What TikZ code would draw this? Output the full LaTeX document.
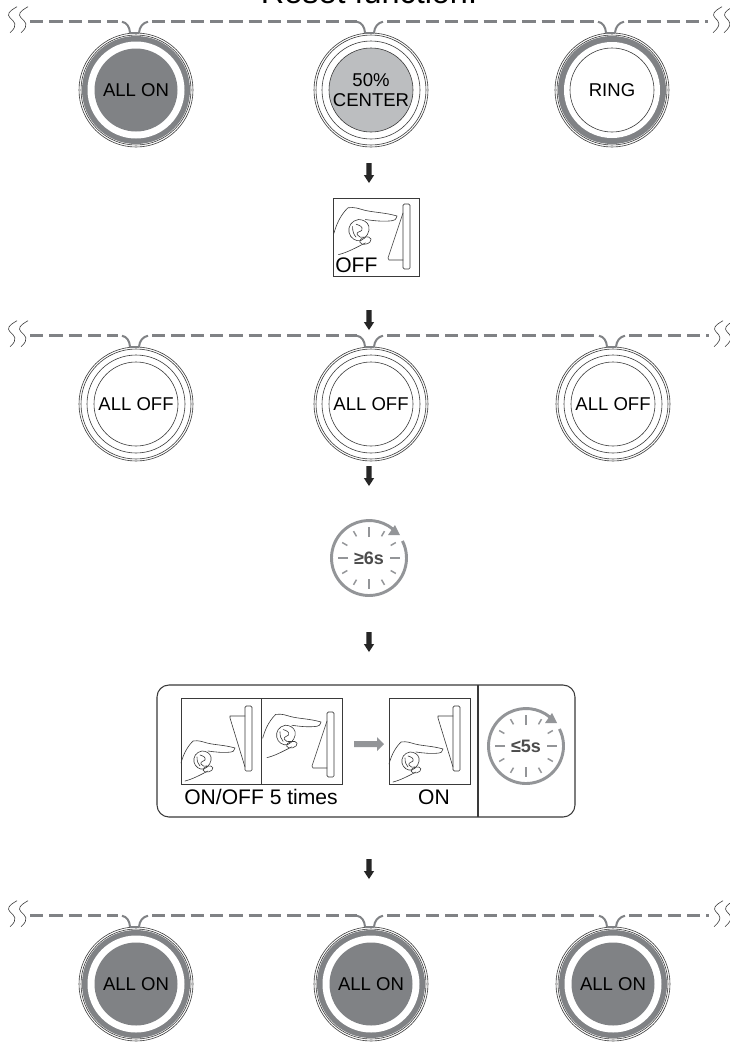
\documentclass[tikz,border=0pt]{standalone}
\usepackage{fontspec}
\setmainfont{Liberation Sans}
\usetikzlibrary{calc}
\definecolor{dk}{HTML}{808285}
\definecolor{lg}{HTML}{BCBEC0}
\definecolor{tm}{HTML}{939598}
\definecolor{ln}{HTML}{3A3A3A}
\tikzset{
 x=0.75pt,y=-0.75pt,
 thin line/.style={draw=ln,line width=0.45pt},
 btnnode/.style={circle,minimum size=85.5pt,inner sep=0pt,align=center,font=\fontsize{13.9pt}{15.5pt}\selectfont,text=black},
 bus/.style={draw=dk,line width=1.9pt,dash pattern=on 10pt off 4.5pt},
 hook/.style={draw=dk,line width=1.5pt},
 squig/.style={draw=ln,line width=0.45pt},
 downarrow/.style={fill=black!85},
 hand/.style={draw=ln,line width=0.45pt,line cap=round,line join=round},
 iconbox/.style={draw=ln,line width=0.6pt},
 lab/.style={font=\fontsize{15.8pt}{17pt}\selectfont,text=black,inner sep=0pt},
 tick/.style={draw=tm,line width=1.1pt},
 timertext/.style={font=\fontsize{13.5pt}{15pt}\selectfont\bfseries,text=black!70,inner sep=0pt},
}
\newcommand{\outerrings}[2]{\draw[thin line] (#1,#2) circle (57) (#1,#2) circle (55);}
\newcommand{\btnon}[4]{\outerrings{#2}{#3}
 \fill[dk] (#2,#3) circle (54);\fill[white] (#2,#3) circle (48.5);\fill[dk] (#2,#3) circle (41.5);
 \node[btnnode] (#1) at (#2,#3) {#4};}
\newcommand{\btnoff}[4]{\outerrings{#2}{#3}
 \draw[thin line] (#2,#3) circle (49) (#2,#3) circle (42);
 \node[btnnode] (#1) at (#2,#3) {#4};}
\newcommand{\btnhalf}[4]{\outerrings{#2}{#3}
 \draw[thin line] (#2,#3) circle (49);\draw[thin line,fill=lg] (#2,#3) circle (42);
 \node[btnnode] (#1) at (#2,#3) {#4};}
\newcommand{\btnring}[4]{\outerrings{#2}{#3}
 \fill[dk] (#2,#3) circle (54);\fill[white] (#2,#3) circle (48);\draw[thin line] (#2,#3) circle (42);
 \node[btnnode] (#1) at (#2,#3) {#4};}
\newcommand{\hooks}[1]{%
 \draw[hook] ($(#1.north)+(-14,-11)$) .. controls ($(#1.north)+(-9,-10)$) and ($(#1.north)+(-6.5,-6)$) .. ($(#1.north)+(-6,0)$);
 \draw[hook] ($(#1.north)+(12,-11)$) .. controls ($(#1.north)+(7,-10)$) and ($(#1.north)+(3.5,-6)$) .. ($(#1.north)+(3,0)$);
 \draw[hook] ($(#1.north)+(-6,0)$) -- ($(#1.north)+(3,0)$);
}
\newcommand{\busrow}[3]{%
 \coordinate (sl) at ($(#1.north)+(-106,-11)$);
 \coordinate (sr) at ($(#3.north)+(96,-11)$);
 \draw[bus] (sl) -- ($(#1.north)+(-18,-11)$);
 \draw[bus] ($(#1.north)+(16,-11)$) -- ($(#2.north)+(-14,-11)$);
 \draw[bus] ($(#2.north)+(16,-11)$) -- ($(#3.north)+(-14,-11)$);
 \draw[bus] ($(#3.north)+(16,-11)$) -- (sr);
 \hooks{#1}\hooks{#2}\hooks{#3}
 \begin{scope}[shift={(sl)}]
  \draw[squig] (-13,-15) .. controls (-22,-10) and (-23,-7) .. (-20,-4) .. controls (-16,0) and (-11,3) .. (-20,11);
  \draw[squig] (-2,-15) .. controls (-11,-10) and (-12,-7) .. (-9,-4) .. controls (-5,0) and (0,3) .. (-9,11);
 \end{scope}
 \begin{scope}[shift={(sr)}]
  \draw[squig] (14,-15) .. controls (5,-10) and (4,-7) .. (7,-4) .. controls (11,0) and (14,3) .. (5,11);
  \draw[squig] (25,-15) .. controls (16,-10) and (15,-7) .. (18,-4) .. controls (22,0) and (25,3) .. (16,11);
 \end{scope}
}
\newcommand{\darrow}[2]{\fill[downarrow] (#1-2.6,#2) -- (#1+2.6,#2) -- (#1+2.6,#2+12) -- (#1+5.2,#2+12) -- (#1,#2+20) -- (#1-5.2,#2+12) -- (#1-2.6,#2+12) -- cycle;}
\newcommand{\handat}[3]{\begin{scope}[shift={(#1,#2)},scale=#3]
 \draw[hand] (-54,15) .. controls (-52,8) and (-49,0) .. (-42,-7) .. controls (-36,-8) and (-32,-6) .. (-28,-5) .. controls (-20,-3) and (-10,-3) .. (0,0) .. controls (-1,3) and (-2,4) .. (-4,4) .. controls (-12,5) and (-20,4) .. (-27,3);
 \draw[hand] (-50,33) .. controls (-42,31) and (-35,27) .. (-27,23);
 \draw[hand] (-33,3) .. controls (-39,4) and (-42,9) .. (-41,14) .. controls (-40,19) and (-35,22) .. (-31,21) .. controls (-26,19) and (-23,13) .. (-24,9) .. controls (-25,5) and (-29,3) .. (-33,3);
 \draw[hand] (-35,7) .. controls (-32,8) and (-29,9) .. (-30,12) .. controls (-31,14) and (-35,13) .. (-34,16) .. controls (-33,18) and (-30,19) .. (-28,18);
 \draw[hand] (-38,9) .. controls (-38,13) and (-37,16) .. (-35,18);
 \draw[hand,rotate around={15:(-27,21)}] (-27,21) ellipse (5 and 3);
\end{scope}}
\newcommand{\plateon}[2]{\begin{scope}[shift={(#1,#2)}]
 \draw[thin line,rounded corners=1pt] (0,0) rectangle (7,65);
 \draw[hand] (0,10) -- (-15,10) -- (-15,12) -- (0,61);
\end{scope}}
\newcommand{\plateoff}[2]{\begin{scope}[shift={(#1,#2)}]
 \draw[thin line,rounded corners=1pt] (0,0) rectangle (7,65);
 \draw[hand] (0,9) -- (-15,54) -- (-14,56) -- (0,56);
\end{scope}}
\newcommand{\timer}[4]{%
 \draw[draw=tm,line width=2.2pt] (#2,#3) ++(-27:37.5) arc (-27:310:37.5);
 \fill[tm] ($(#2,#3)+(26,-33)$) -- ($(#2,#3)+(19,-23)$) -- ($(#2,#3)+(31,-23)$) -- cycle;
 \foreach \a in {0,90,180,270} \draw[tick] ($(#2,#3)+(\a:21)$) -- ($(#2,#3)+(\a:31)$);
 \foreach \a in {30,60,120,150,210,240,300,330} \draw[tick] ($(#2,#3)+(\a:25)$) -- ($(#2,#3)+(\a:31)$);
 \node[timertext] (#1) at (#2,#3) {#4};
}
\begin{document}
\begin{tikzpicture}
\useasboundingbox (0,0) rectangle (730,1043);
\fill[white] (0,0) rectangle (730,1043);
\node[font=\fontsize{24.3pt}{26pt}\selectfont,text=black,inner sep=0pt,anchor=base] (title) at (369,3) {Reset function:};
% row 1
\btnon{a}{136}{90}{ALL ON}
\btnhalf{b}{371}{90}{50\%\\CENTER}
\btnring{c}{612}{90}{RING}
\busrow{a}{b}{c}
\darrow{369}{163}
% off icon
\draw[iconbox] (333,198) rectangle (419,276);
\handat{397}{216}{1.17}
\plateoff{403}{204}
\node[lab,anchor=west] (offl) at (335,265) {OFF};
\darrow{369}{310}
% row 2
\btnoff{d}{136}{404}{ALL OFF}
\btnoff{e}{371}{404}{ALL OFF}
\btnoff{f}{613}{404}{ALL OFF}
\busrow{d}{e}{f}
\darrow{369}{466}
\timer{t1}{369}{558}{≥6s}
\darrow{369}{632}
% panel
\draw[draw=ln,line width=0.8pt,rounded corners=9pt] (157,685) rectangle (575,817);
\draw[draw=ln,line width=0.8pt] (478,685) -- (478,817);
\draw[iconbox] (181,698) rectangle (261,784);
\draw[iconbox] (261,698) rectangle (342,784);
\draw[iconbox] (389,698) rectangle (470,784);
\handat{235}{748}{1}\plateon{245}{706}
\handat{321}{722}{1.08}\plateoff{327}{712}
\handat{443}{749}{1}\plateon{453}{706}
\node[lab,anchor=center] (l1) at (261,797) {ON/OFF 5 times};
\node[lab,anchor=center] (l2) at (434,797) {ON};
\fill[tm] (354,741) -- (377,741) -- (377,737) -- (384,744) -- (377,751) -- (377,747) -- (354,747) -- cycle;
\timer{t2}{526}{746}{≤5s}
\darrow{369}{859}
% row 3
\btnon{g}{136}{984}{ALL ON}
\btnon{h}{371}{984}{ALL ON}
\btnon{i}{613}{984}{ALL ON}
\busrow{g}{h}{i}
\end{tikzpicture}
\end{document}
